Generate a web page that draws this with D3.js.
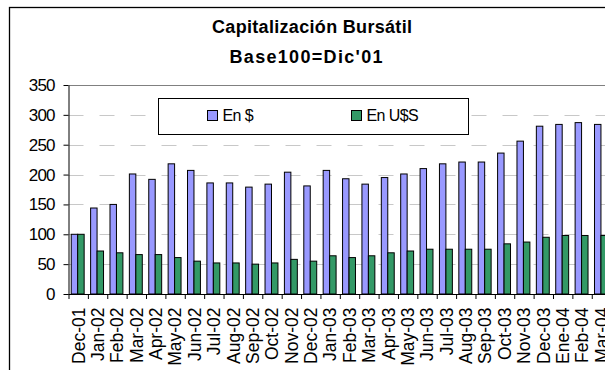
<!DOCTYPE html>
<html>
<head>
<meta charset="utf-8">
<script src="https://cdn.jsdelivr.net/npm/d3@7"></script>
<style>
  html, body { margin: 0; padding: 0; background: #fff; }
  svg { display: block; font-family: Arial, "Liberation Sans", sans-serif; }
</style>
</head>
<body>
<svg id="chart" width="605" height="370"></svg>
<script>
// Monthly market capitalisation index, Dec-01 = 100
const months = ["Dec-01","Jan-02","Feb-02","Mar-02","Apr-02","May-02","Jun-02","Jul-02","Aug-02","Sep-02","Oct-02","Nov-02","Dec-02",
  "Jan-03","Feb-03","Mar-03","Apr-03","May-03","Jun-03","Jul-03","Aug-03","Sep-03","Oct-03","Nov-03","Dec-03","Ene-04","Feb-04","Mar-04"];
const enPesos = [100,144,150,201,192,218,207,186,186,179,184,204,181,
  207,193,184,195,201,210,218,221,221,236,256,281,284,287,284];
const enDolares = [100,72,69,66,66,61,55,52,52,50,52,58,55,
  64,61,64,69,72,75,75,75,75,84,87,95,98,98,98];
const yTicks = [0,50,100,150,200,250,300,350];
const seriesNames = ["En $","En U$S"];
const seriesColors = ["#9999FF","#339966"];

const svg = d3.select("#chart");

// outer chart frame
svg.append("rect")
  .attr("x", 9.5).attr("y", 7.5).attr("width", 640).attr("height", 400)
  .attr("fill", "none").attr("stroke", "#000").attr("stroke-width", 1.3);

const plotLeft = 68.5, plotTop = 85, plotBottom = 294;
const x = d3.scaleBand().domain(months).range([plotLeft, plotLeft + 28 * 19.38]);
const y = d3.scaleLinear().domain([0, 350]).range([plotBottom, plotTop]);
const plotRight = x.range()[1];

// title
const title = svg.append("g").attr("font-weight", "bold").attr("text-anchor", "middle").attr("fill", "#000");
title.append("text").attr("x", 312).attr("y", 33).attr("font-size", 18)
  .attr("textLength", 200).attr("lengthAdjust", "spacing").text("Capitalización Bursátil");
title.append("text").attr("x", 306).attr("y", 63).attr("font-size", 18)
  .attr("textLength", 153).attr("lengthAdjust", "spacing").text("Base100=Dic'01");

// gridlines
const grid = svg.append("g");
grid.selectAll("line").data(yTicks.filter(t => t > 0 && t < 350)).join("line")
  .attr("x1", plotLeft).attr("x2", plotRight)
  .attr("y1", d => Math.round(y(d)) + 0.5).attr("y2", d => Math.round(y(d)) + 0.5)
  .attr("stroke", "#c8c8c8").attr("stroke-width", 1)
  .attr("stroke-dasharray", "15,16");
grid.append("line")
  .attr("x1", plotLeft).attr("x2", plotRight)
  .attr("y1", y(350) + 0.5).attr("y2", y(350) + 0.5)
  .attr("stroke", "#808080").attr("stroke-width", 1.2);

// bars
const bw = x.bandwidth() / 3;
const series = [enPesos, enDolares];
series.forEach((vals, si) => {
  svg.append("g").selectAll("rect").data(months).join("rect")
    .attr("x", (m) => x(m) + x.bandwidth() / 2 - bw + si * bw - 0.5)
    .attr("y", (m, i) => y(vals[i]))
    .attr("width", bw)
    .attr("height", (m, i) => plotBottom - y(vals[i]))
    .attr("fill", seriesColors[si])
    .attr("stroke", "#000").attr("stroke-width", 1);
});

// y axis
const yAxis = d3.axisLeft(y).tickValues(yTicks).tickSize(5).tickPadding(9).tickSizeOuter(0);
const gy = svg.append("g").attr("transform", `translate(${plotLeft},0)`).call(yAxis);
gy.select(".domain").attr("stroke", "#000");
gy.selectAll(".tick line").attr("stroke", "#000");
gy.selectAll(".tick text")
  .attr("font-family", "Arial, 'Liberation Sans', sans-serif")
  .attr("font-size", 17).attr("letter-spacing", -0.9).attr("fill", "#000");

// x axis: ticks at category boundaries
const gx = svg.append("g").attr("transform", `translate(0,${plotBottom})`);
gx.append("line").attr("x1", plotLeft).attr("x2", plotRight).attr("y1", 0.5).attr("y2", 0.5)
  .attr("stroke", "#000").attr("stroke-width", 1.2);
gx.selectAll("line.tk").data(months).join("line").attr("class", "tk")
  .attr("x1", m => x(m) + 0.5).attr("x2", m => x(m) + 0.5)
  .attr("y1", 0).attr("y2", 5).attr("stroke", "#000");
gx.selectAll("text").data(months).join("text")
  .attr("transform", m => `translate(${x(m) + x.bandwidth() / 2},${13.5}) rotate(-90)`)
  .attr("text-anchor", "end").attr("dy", "0.36em")
  .attr("font-size", 17.5).attr("fill", "#000")
  .text(m => m);

// legend
const lg = svg.append("g");
lg.append("rect").attr("x", 158.5).attr("y", 98.5).attr("width", 310).attr("height", 36)
  .attr("fill", "#fff").attr("stroke", "#000").attr("stroke-width", 1);
const legendX = [207, 351];
seriesNames.forEach((name, i) => {
  lg.append("rect").attr("x", legendX[i] + 0.5).attr("y", 110.5).attr("width", 10).attr("height", 10)
    .attr("fill", seriesColors[i]).attr("stroke", "#000").attr("stroke-width", 1);
  lg.append("text").attr("x", legendX[i] + 15.5).attr("y", 121)
    .attr("font-size", 16).attr("letter-spacing", -0.6).attr("fill", "#000").text(name);
});
</script>
</body>
</html>
